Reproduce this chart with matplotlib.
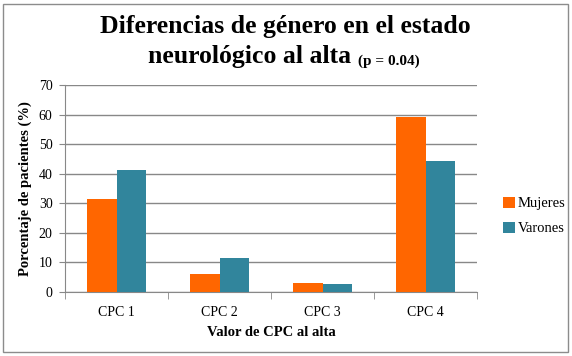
import numpy as np
import matplotlib
matplotlib.use("Agg")
import matplotlib.pyplot as plt
from matplotlib.patches import Rectangle

categories = ["CPC 1", "CPC 2", "CPC 3", "CPC 4"]
mujeres = [31.4, 6.2, 3.0, 59.1]
varones = [41.2, 11.5, 2.7, 44.3]

plt.rcParams["font.family"] = ["Liberation Serif", "DejaVu Serif"]

fig = plt.figure(figsize=(5.72, 3.56), dpi=100)
W, H = 572, 356

# outer chart border
fig.patches.append(Rectangle((3 / W, 4 / H), 565 / W, 348 / H, transform=fig.transFigure,
                             fill=False, edgecolor="#8c8c8c", linewidth=1.0))

ax = fig.add_axes([65 / W, 1 - 292 / H, 412 / W, 207 / H])

x = np.arange(len(categories))
w = 0.29
ax.bar(x - w / 2, mujeres, w, color="#ff6600", label="Mujeres", zorder=3)
ax.bar(x + w / 2, varones, w, color="#31859c", label="Varones", zorder=3)

ax.set_xlim(-0.5, 3.5)
ax.set_ylim(0, 70)
ax.set_yticks(range(0, 71, 10))
ax.set_xticks(x)
ax.set_xticklabels(categories)
ax.set_xticks(np.arange(-0.5, 4, 1), minor=True)
ax.tick_params(axis="x", which="major", length=0, pad=10, labelsize=10)
ax.tick_params(axis="x", which="minor", length=5, color="#888888", direction="out")
ax.tick_params(axis="y", length=4, color="#888888", labelsize=10, pad=5)

ax.grid(axis="y", color="#888888", linewidth=1.0, zorder=0)
for s in ["top", "right"]:
    ax.spines[s].set_visible(False)
for s in ["left", "bottom"]:
    ax.spines[s].set_color("#888888")

ax.set_ylabel("Porcentaje de pacientes (%)", fontsize=10.5, fontweight="bold", labelpad=5)
ax.set_xlabel("Valor de CPC al alta", fontsize=10.5, fontweight="bold", labelpad=5)

ax.legend(loc="center left", bbox_to_anchor=(490 / W, 1 - 216 / H), bbox_transform=fig.transFigure,
          frameon=False, fontsize=10.5, handlelength=0.8, handleheight=0.8,
          handletextpad=0.2, labelspacing=0.8)

fig.text(285 / W, 1 - 27 / H, "Diferencias de género en el estado", ha="center", va="center",
         fontsize=18.5, fontweight="bold")
t2 = fig.text(148 / W, 1 - 63 / H, "neurológico al alta ", ha="left", va="baseline",
              fontsize=18.5, fontweight="bold")
ax.annotate("(p = 0.04)", xy=(1, 0), xycoords=t2, va="bottom", ha="left",
            fontsize=11, fontweight="bold", annotation_clip=False)

fig.savefig("out.png", dpi=100)
